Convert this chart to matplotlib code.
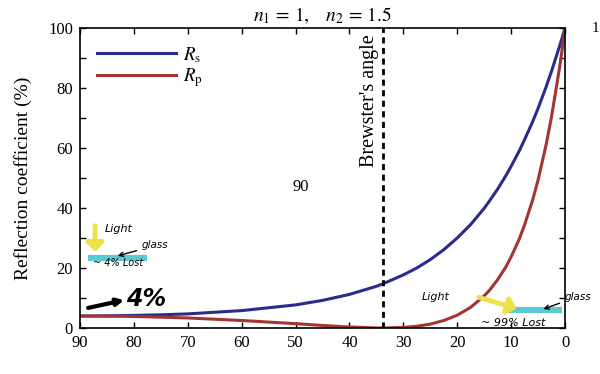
import matplotlib
matplotlib.use("Agg")
import matplotlib.pyplot as plt
from matplotlib.ticker import MultipleLocator, FuncFormatter

# Data (x = angle, axis runs 90 -> 0)
angle = [90, 85, 80, 75, 70, 60, 50, 45, 40, 35, 33.7, 30, 27.5, 25, 22.5, 20,
         17.5, 15, 14, 12.5, 11, 10, 8.5, 7.5, 6, 5, 3.5, 2.5, 1, 0.5, 0]
rs = [4.0, 4.05, 4.2, 4.4, 4.7, 5.8, 7.7, 9.2, 11.2, 13.9, 14.8, 17.7, 20.0, 22.8,
      26.1, 30.0, 34.5, 39.9, 42.4, 46.3, 50.7, 53.9, 59.0, 62.8, 68.8, 73.2,
      80.4, 85.6, 94.0, 96.9, 100.0]
rp = [4.0, 3.95, 3.85, 3.6, 3.35, 2.5, 1.45, 0.85, 0.33, 0.02, 0.0, 0.18, 0.58, 1.3,
      2.5, 4.25, 6.9, 10.7, 12.6, 16.1, 20.3, 23.7, 29.6, 34.4, 42.7, 49.3,
      61.1, 70.4, 86.9, 93.2, 100.0]
brewster = 33.7
xticks = [90, 80, 70, 60, 50, 40, 30, 20, 10, 0]

plt.rcParams['font.family'] = ['Liberation Serif', 'DejaVu Serif']
plt.rcParams['mathtext.fontset'] = 'stix'

fig = plt.figure(figsize=(6.0, 3.74), dpi=100)
ax = fig.add_axes([80/600, 1-328/374, 485/600, 300/374])

ax.plot(angle, rs, color='#2b2b8c', lw=2.2, label=r'$R_\mathrm{s}$')
ax.plot(angle, rp, color='#a33434', lw=2.2, label=r'$R_\mathrm{p}$')
ax.axvline(brewster, color='black', lw=2.0, linestyle=(0, (2.2, 1.6)))

ax.set_xlim(90, 0)
ax.set_ylim(0, 100)
ax.set_xticks(xticks)
ax.set_xticklabels([str(t) for t in xticks])
ax.yaxis.set_major_locator(MultipleLocator(10))
ax.yaxis.set_major_formatter(FuncFormatter(lambda v, p: f"{int(v)}" if int(v) % 20 == 0 else ""))
ax.tick_params(direction='in', top=True, right=True, length=4, width=1,
               labelsize=12, pad=5)
for s in ax.spines.values():
    s.set_linewidth(1.2)

ax.set_ylabel('Reflection coefficient (%)', fontsize=14, labelpad=12)
ax.set_title(r'$n_1 \,=\, 1,\ \ \ n_2 \,=\, 1.5$', fontsize=14, pad=5)

leg = ax.legend(loc='upper left', frameon=False, fontsize=13.5, handlelength=4.2,
                handletextpad=0.4, labelspacing=0.1, borderaxespad=0.5,
                bbox_to_anchor=(0.0, 1.0))

ax.text(brewster + 0.8, 98, "Brewster's angle", rotation=90, ha='right', va='top',
        fontsize=14.5)
ax.text(0.455, 0.47, '90', transform=ax.transAxes, fontsize=12, ha='center', va='center')
fig.text(592/600, 1-28/374, '1', fontsize=11, ha='left', va='center')

# Handwritten-style annotations
hw = dict(family='DejaVu Sans', style='italic', color='black')
# left: light on glass
ax.plot([88.5, 77.5], [23.5, 23.5], color='#5cc8d2', lw=4.5, solid_capstyle='butt')
ax.annotate('', xy=(87.2, 24.5), xytext=(87.2, 35),
            arrowprops=dict(arrowstyle='-|>,head_width=0.5,head_length=0.5',
                        color='#ece24a', lw=3.5))
ax.text(85.5, 32, 'Light', fontsize=8, **hw)
ax.annotate('glass', xy=(83.5, 23.8), xytext=(78.5, 26.5), fontsize=7.5,
            arrowprops=dict(arrowstyle='->', color='black', lw=1), **hw)
ax.text(87.5, 20.5, '~ 4% Lost', fontsize=7, **hw)
ax.text(81.5, 7.5, '4%', fontsize=17, fontweight='bold', **hw)
ax.annotate('', xy=(81.3, 9.5), xytext=(89, 6.5),
            arrowprops=dict(arrowstyle='-|>', color='black', lw=3))

# right: grazing light
ax.plot([11, 0.5], [5.9, 5.9], color='#5cc8d2', lw=4.5, solid_capstyle='butt')
ax.annotate('', xy=(8.5, 6.2), xytext=(16.5, 10.5),
            arrowprops=dict(arrowstyle='-|>,head_width=0.5,head_length=0.5',
                            color='#ece24a', lw=3.5))
ax.text(26.5, 9.5, 'Light', fontsize=8, **hw)
ax.annotate('glass', xy=(4.5, 6.0), xytext=(0.0, 9.5), fontsize=7.5, annotation_clip=False,
            arrowprops=dict(arrowstyle='->', color='black', lw=1), **hw)
ax.text(15.5, 0.8, '~ 99% Lost', fontsize=8, clip_on=False, **hw)

fig.savefig('out.png', dpi=100)
